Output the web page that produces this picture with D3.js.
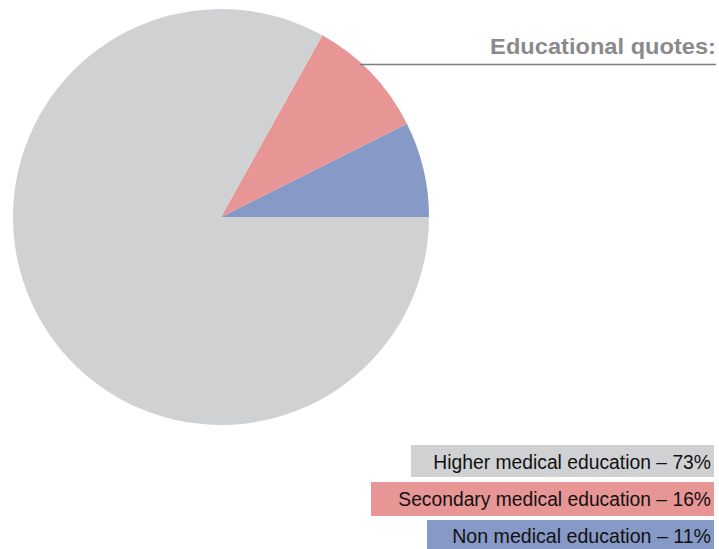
<!DOCTYPE html>
<html>
<head>
<meta charset="utf-8">
<script src="https://cdn.jsdelivr.net/npm/d3@7"></script>
<style>
  body { margin: 0; background: #fff; }
  svg { display: block; }
</style>
</head>
<body>
<svg id="chart" width="719" height="549"></svg>
<script>
// legend categories and the quoted shares
const categories = ["Higher medical education", "Secondary medical education", "Non medical education"];
const quoted = [73, 16, 11];
// shares as the slices are actually drawn in the picture (they don't match the quotes)
const sliceShares = [83.1, 9.5, 7.4];
const colors = ["#d0d1d3", "#e89595", "#8799c6"];

const svg = d3.select("#chart");
const cx = 221, cy = 217, r = 208;

// slices go counter-clockwise from 3 o'clock: blue, pink, then gray
const pieData = categories.map((c, i) => ({name: c, value: sliceShares[i], color: colors[i]})).reverse();
const pie = d3.pie().value(d => d.value).sort(null)
    .startAngle(Math.PI / 2).endAngle(Math.PI / 2 - 2 * Math.PI);
const arc = d3.arc().innerRadius(0).outerRadius(r);

svg.append("g").attr("transform", `translate(${cx},${cy})`)
    .selectAll("path").data(pie(pieData)).enter().append("path")
    .attr("d", arc).attr("fill", d => d.data.color);

// squeeze/stretch a right-anchored text so it spans the wanted width
function fitWidth(sel, right, base, width) {
  sel.each(function(d, i) {
    const w = typeof width === "function" ? width(d, i) : width;
    const b = typeof base === "function" ? base(d, i) : base;
    const natural = this.getComputedTextLength();
    const sx = w / natural;
    d3.select(this).attr("x", 0).attr("y", 0)
      .attr("transform", `translate(${right},${b}) scale(${sx},1)`);
  });
}

// title + rule
svg.append("line").attr("x1", 360).attr("x2", 716).attr("y1", 64.5).attr("y2", 64.5)
    .attr("stroke", "#7d7d7f").attr("stroke-width", 1.5);
svg.append("text").attr("text-anchor", "end")
    .attr("font-family", "'Liberation Sans', Arial, sans-serif").attr("font-weight", "bold")
    .attr("font-size", 22).attr("fill", "#8a8a8c")
    .text("Educational quotes:")
    .call(fitWidth, 716, 54, 226);

// legend boxes (right aligned, width follows the text)
const rows = [
  {x: 411, y: 445, h: 32, base: 469, tw: 278},
  {x: 371, y: 482, h: 34, base: 506, tw: 313},
  {x: 427, y: 520, h: 29, base: 543, tw: 259}
];
const leg = svg.append("g").selectAll("g").data(categories).enter().append("g");
leg.append("rect")
    .attr("x", (d, i) => rows[i].x).attr("y", (d, i) => rows[i].y)
    .attr("width", (d, i) => 714 - rows[i].x).attr("height", (d, i) => rows[i].h)
    .attr("fill", (d, i) => colors[i]);
leg.append("text")
    .attr("text-anchor", "end")
    .attr("font-family", "'Liberation Sans Narrow', 'Liberation Sans', Arial, sans-serif")
    .attr("font-size", 21).attr("fill", "#111")
    .text((d, i) => `${d} \u2013 ${quoted[i]}%`)
    .call(fitWidth, 711, (d, i) => rows[i].base, (d, i) => rows[i].tw);
</script>
</body>
</html>
